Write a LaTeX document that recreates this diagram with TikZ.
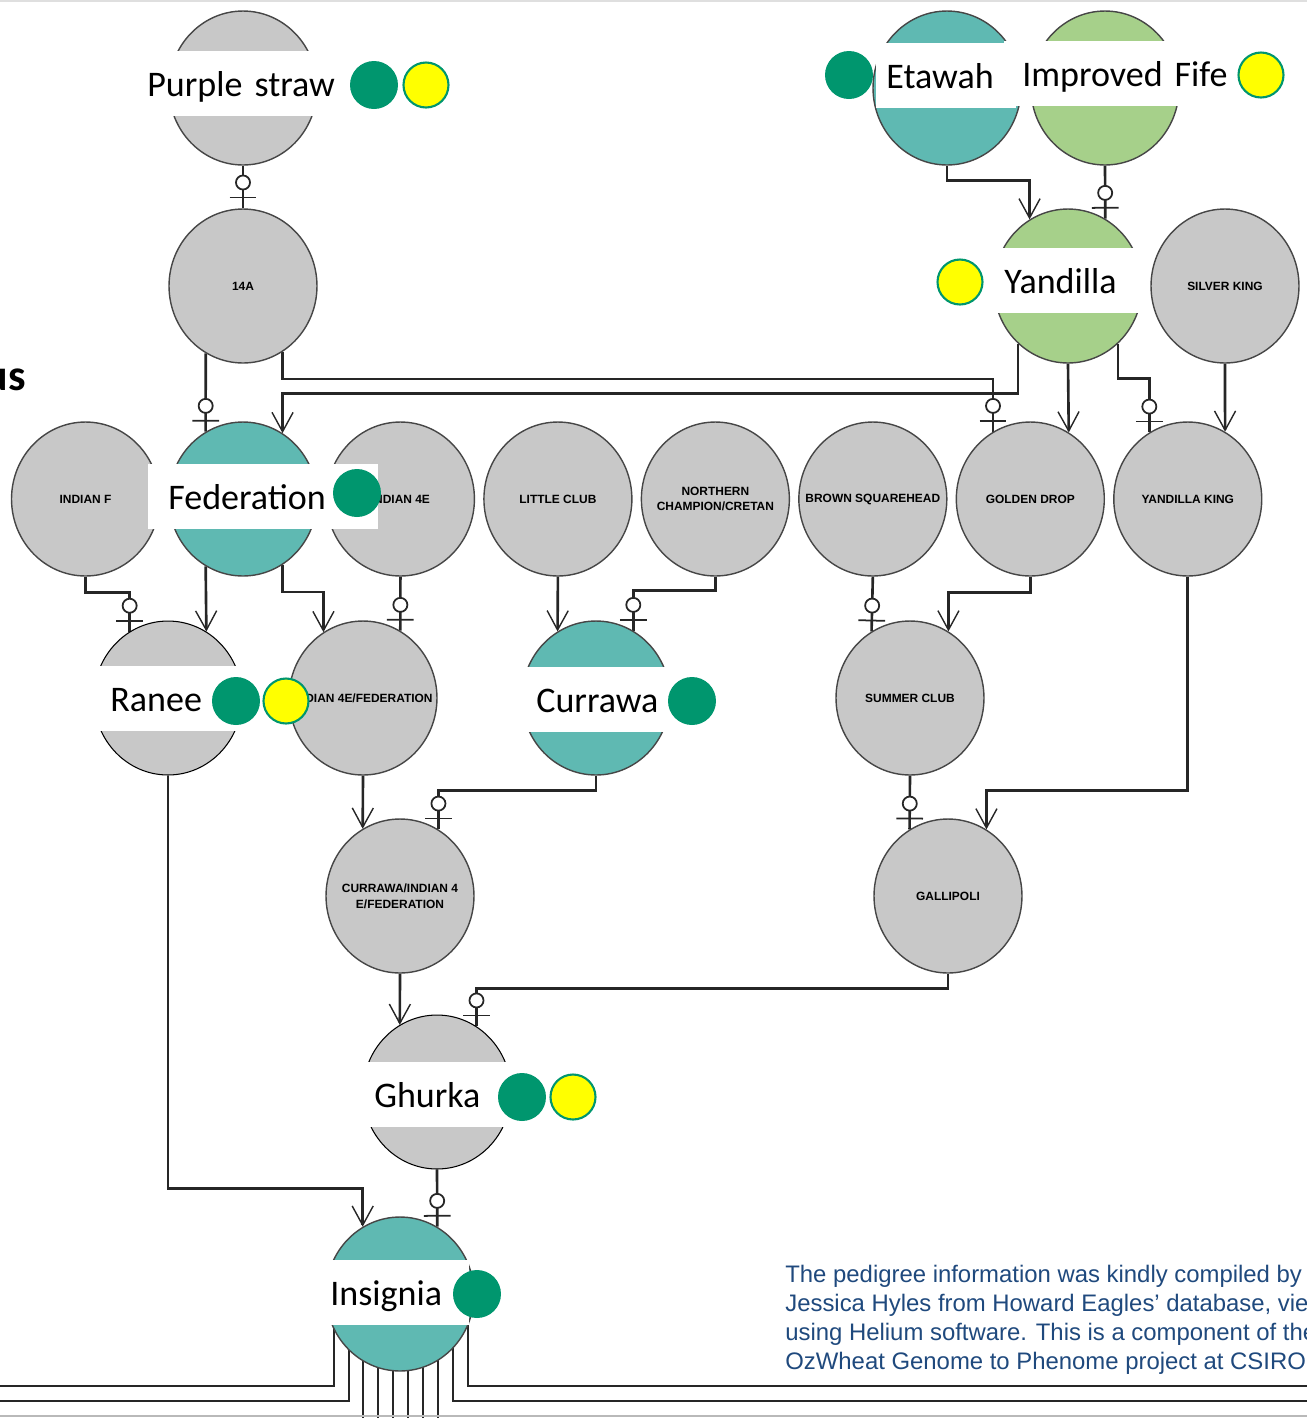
\documentclass[tikz,border=0pt]{standalone}
\usepackage{fontspec}
\setmainfont{Carlito}
\newfontfamily\capsfont{Liberation Sans}
\newfontfamily\notefont{Liberation Sans}
\usetikzlibrary{shapes.geometric, arrows.meta, positioning, calc, backgrounds, decorations.markings}

\definecolor{plantgray}{RGB}{200,200,200}
\definecolor{planttealfill}{RGB}{95,185,178}
\definecolor{plantlimefill}{RGB}{166,208,138}
\definecolor{rimgray}{RGB}{70,70,70}
\definecolor{dotgreen}{RGB}{0,150,110}
\definecolor{dotyellow}{RGB}{255,255,0}
\definecolor{noteblue}{RGB}{31,73,125}

\begin{document}
\begin{tikzpicture}[
    x=0.02cm, y=-0.02cm,
    node distance=3.15cm,
    plant/.style={ellipse, draw=rimgray, line width=0.8pt, fill=plantgray, minimum width=2.96cm, minimum height=3.08cm, inner xsep=-0.5cm, inner ysep=0pt, align=center, font=\capsfont\bfseries\fontsize{6.8}{9}\selectfont},
    tealplant/.style={plant, fill=planttealfill},
    limeplant/.style={plant, fill=plantlimefill},
    pasted/.style={draw=black, line width=0.6pt},
    tag/.style={fill=white, anchor=west, inner ysep=0pt, minimum height=1.3cm, text height=0.62cm, text depth=0.1cm, align=left, font=\fontsize{20.5}{24}\selectfont},
    gdot/.style={circle, fill=dotgreen, minimum size=0.96cm, inner sep=0pt},
    ydot/.style={circle, draw=dotgreen, line width=1.2pt, fill=dotyellow, minimum size=0.9cm, inner sep=0pt},
    link/.style={line width=1.5pt, draw=black!85},
    female/.style={link, -{Straight Barb[length=11pt, width=12pt, line width=0.8pt]}},
    male/.style={link, postaction={decorate}, decoration={markings, mark=at position 1 with {
        \draw[line width=1pt] (-6.2pt,-7.6pt) -- (-6.2pt,7.6pt);
        \draw[line width=1pt, fill=white] (-14.7pt,0pt) circle[radius=4pt];}}}
]
    \useasboundingbox (0,0) rectangle (1307,1418);

    % Varieties
    \node[plant] (purple) at (243,88) {};
    \node[tealplant] (etawah) at (947,88) {};
    \node[limeplant] (fife) at (1105,88) {};
    \node[plant] (a14) at (243,286) {14A};
    \node[limeplant] (yandilla) at (1068,286) {};
    \node[plant] (silverking) at (1225,286) {SILVER KING};
    \node[plant] (indianf) at (85.5,499) {INDIAN F};
    \node[tealplant, right of=indianf] (federation) {};
    \node[plant, right of=federation] (indian4e) {INDIAN 4E};
    \node[plant, right of=indian4e] (littleclub) {LITTLE CLUB};
    \node[plant, right of=littleclub] (northern) {NORTHERN\\CHAMPION/CRETAN};
    \node[plant, right of=northern] (brownsq) {BROWN SQUAREHEAD};
    \node[plant, right of=brownsq] (goldendrop) {GOLDEN DROP};
    \node[plant, right of=goldendrop] (yandillaking) {YANDILLA KING};
    \node[plant, pasted] (ranee) at (168,698) {};
    \node[plant] (i4efed) at (363,698) {INDIAN 4E/FEDERATION};
    \node[tealplant] (currawa) at (596,698) {};
    \node[plant] (summerclub) at (910,698) {SUMMER CLUB};
    \node[plant] (cif) at (400,896) {CURRAWA/INDIAN 4\\E/FEDERATION};
    \node[plant] (gallipoli) at (948,896) {GALLIPOLI};
    \node[plant, pasted] (ghurka) at (437,1092) {};
    \node[tealplant] (insignia) at (400,1294) {};

    % Crosses
    \begin{scope}[on background layer]
    \draw[male] (purple.south) -- (a14.north);
    \draw[female] (etawah.south) -- ++(0,15) -| (yandilla.120);
    \draw[male] (fife.south) -- (yandilla.61);
    \draw[male] (a14.241) -- (federation.119);
    \draw[male] (a14.301) -- ++(0,27) -| (goldendrop.119);
    \draw[female] (yandilla.229) -- ++(0,50) -| (federation.59);
    \draw[female] (yandilla.south) -- (goldendrop.60);
    \draw[male] (yandilla.311) -- ++(0,35) -| (yandillaking.120);
    \draw[female] (silverking.south) -- (yandillaking.61);
    \draw[male] (indianf.south) -- ++(0,16) -| (ranee.120);
    \draw[female] (federation.241) -- (ranee.60);
    \draw[female] (federation.301) -- ++(0,27) -| (i4efed.121);
    \draw[male] (indian4e.south) -- (i4efed.61);
    \draw[female] (littleclub.south) -- (currawa.120);
    \draw[male] (northern.south) -- ++(0,14) -| (currawa.61);
    \draw[male] (brownsq.south) -- (summerclub.120);
    \draw[female] (goldendrop.south) -- ++(0,16) -| (summerclub.60);
    \draw[female] (i4efed.south) -- (cif.119);
    \draw[male] (currawa.south) -- ++(0,15) -| (cif.60);
    \draw[male] (summerclub.south) -- (gallipoli.120);
    \draw[female] (yandillaking.south) -- ++(0,214) -| (gallipoli.60);
    \draw[female] (cif.south) -- (ghurka.119);
    \draw[male] (gallipoli.south) -- ++(0,15) -| (ghurka.59);
    \draw[female] (ranee.south) -- ++(0,413) -| (insignia.119);
    \draw[male] (ghurka.south) -- (insignia.61);

    % Insignia offspring, off the page
    \coordinate (offl1) at (0,1386);
    \coordinate (offl2) at (0,1401);
    \coordinate (offr1) at (1307,1386);
    \coordinate (offr2) at (1307,1401);
    \foreach \dx in {-37,-22,...,38}
        \draw[link] ($(insignia.center)+(\dx,0)$) -- ++(0,124);
    \draw[link] ($(insignia.center)+(-66,0)$) |- (offl1);
    \draw[link] ($(insignia.center)+(-51,0)$) |- (offl2);
    \draw[link] ($(insignia.center)+(53,0)$) |- (offr2);
    \draw[link] ($(insignia.center)+(68,0)$) |- (offr1);
    \end{scope}

    % Names and markers
    \node[tag, inner xsep=0.2cm, text width=3.9cm] (purplelbl) at (137,83) {Purple straw};
    \node[gdot] (purplegd) at (374,85) {};
    \node[ydot] (purpleyd) at (426,85) {};
    \node[tag, inner xsep=0.2cm, text width=2.4cm] (etawahlbl) at (876,75) {Etawah};
    \node[gdot] (etawahgd) at (849,75) {};
    \node[tag, inner xsep=0.36cm, text width=4.3cm] (fifelbl) at (1004,73) {Improved Fife};
    \node[ydot] (fifeyd) at (1261,75) {};
    \node[tag, inner xsep=0.4cm, text width=2.4cm] (yandillalbl) at (984,280) {Yandilla};
    \node[ydot] (yandillayd) at (960,282) {};
    \node[tag, inner xsep=0.4cm, text width=3.8cm] (federationlbl) at (148,496) {Federation};
    \node[gdot] (federationgd) at (357,493) {};
    \node[tag, inner xsep=0.4cm, text width=2.56cm] (raneelbl) at (90,698) {Ranee};
    \node[gdot] (raneegd) at (236,701) {};
    \node[ydot] (raneeyd) at (286,701) {};
    \node[tag, inner xsep=0.42cm, text width=2.7cm] (currawalbl) at (515,699) {Currawa};
    \node[gdot] (currawagd) at (692,701) {};
    \node[tag, inner xsep=0.42cm, text width=2.5cm] (ghurkalbl) at (353,1094) {Ghurka};
    \node[gdot] (ghurkagd) at (522,1097) {};
    \node[ydot] (ghurkayd) at (573,1097) {};
    \node[tag, inner xsep=0.28cm, text width=2.5cm] (insignialbl) at (316,1292) {Insignia};
    \node[gdot] (insigniagd) at (477,1294) {};

    % Slide remains
    \node[anchor=base east, inner sep=0pt, font=\bfseries\fontsize{25}{30}\selectfont] (title) at (26,390) {us};
    \node[anchor=north west, inner sep=0pt, align=left, text=noteblue, font=\notefont\fontsize{13.6}{16.4}\selectfont] (note) at (785,1265) {The pedigree information was kindly compiled by\\Jessica Hyles from Howard Eagles’ database, vie\\using Helium software. This is a component of the\\OzWheat Genome to Phenome project at CSIRO};
    \draw[gray!25, line width=1pt] (0,1) -- (1307,1);
    \draw[gray!55, line width=1.5pt] (0,1416) -- (1307,1416);
\end{tikzpicture}
\end{document}
